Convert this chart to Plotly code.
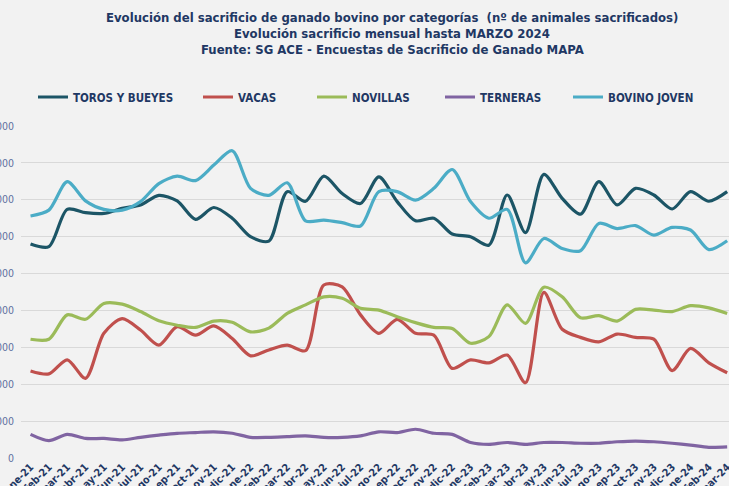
import plotly.graph_objects as go

months = [f"{m}-{y}" for y in ["21", "22", "23"] for m in
          ["ene", "feb", "mar", "abr", "may", "jun", "jul", "ago", "sep", "oct", "nov", "dic"]] + ["ene-24", "feb-24", "mar-24"]

toros = [58000, 57300, 67400, 66500, 66300, 67700, 68600, 71200, 69700, 64700, 67900, 65000,
         60000, 58800, 72200, 69600, 76400, 71700, 69000, 76200, 69500, 64300, 65000, 60700,
         60000, 57700, 71300, 61100, 76900, 70400, 66100, 74900, 68600, 73100, 71300, 67500,
         72200, 69600, 72200]
vacas = [23600, 22800, 26600, 21600, 33800, 37800, 34700, 30600, 35600, 33300, 35800, 32400,
         27700, 29300, 30600, 29100, 46900, 46400, 38800, 33800, 37600, 33800, 33300, 24300,
         26600, 25800, 27900, 20400, 44900, 34900, 32700, 31500, 33600, 32700, 32200, 23700,
         29700, 25800, 23100]
novillas = [32200, 32200, 38800, 37600, 41900, 41700, 39700, 37200, 36000, 35400, 37100, 36800,
            34200, 35200, 39200, 41500, 43700, 43300, 40600, 40100, 38300, 36700, 35400, 35100,
            31100, 32900, 41500, 36500, 46300, 43700, 38000, 38600, 37100, 40300, 40100, 39700,
            41300, 40700, 39200]
terneras = [6400, 4700, 6400, 5300, 5300, 4900, 5600, 6200, 6700, 6900, 7100, 6700,
            5600, 5600, 5800, 6000, 5600, 5600, 6000, 7100, 6900, 7800, 6700, 6400,
            4200, 3700, 4200, 3700, 4200, 4200, 4000, 4000, 4400, 4600, 4400, 4000,
            3500, 2900, 3000]
bovino_joven = [65600, 67200, 74900, 69700, 67400, 67200, 69500, 74400, 76400, 75200, 79400, 83300,
                73100, 71200, 74600, 64300, 64500, 63800, 62900, 72200, 72200, 69900, 73100, 78200,
                69500, 65000, 67400, 52900, 59500, 56800, 56200, 63600, 62200, 63000, 60400, 62500,
                61800, 56500, 58900]

series_names = ["TOROS Y BUEYES", "VACAS", "NOVILLAS", "TERNERAS", "BOVINO JOVEN"]
series_vals = [toros, vacas, novillas, terneras, bovino_joven]
colors = ["#1C5566", "#C0504D", "#9BBB59", "#8064A2", "#4BACC6"]

FONT = "Liberation Sans Narrow, DejaVu Sans Condensed, Arial Narrow, Roboto, sans-serif"
NAVY = "#1F3864"

W, H = 729, 486
ML, MR, MT, MB = 21, 0, 126, 28
pw = W - ML - MR
ph = H - MT - MB

def px_x(px):
    return (px - ML) / pw

def px_y(py):
    return (H - MB - py) / ph

fig = go.Figure()
legend_ids = ["legend", "legend2", "legend3", "legend4", "legend5"]
legend_px = [33, 198, 312, 440, 568]
for name, vals, col, lid in zip(series_names, series_vals, colors, legend_ids):
    fig.add_trace(go.Scatter(
        x=months, y=vals, name=name, mode="lines",
        line=dict(color=col, width=3.2, shape="spline", smoothing=0.8),
        legend=lid,
    ))

legend_common = dict(orientation="h", yanchor="middle", xanchor="left",
                     bgcolor="rgba(0,0,0,0)", itemwidth=30,
                     font=dict(family=FONT, size=11.5, color=NAVY, weight="bold"))
layout_legends = {}
for lid, lx in zip(legend_ids, legend_px):
    d = dict(legend_common)
    d.update(x=px_x(lx), y=px_y(97))
    layout_legends[lid] = d

titles = [
    "Evolución del sacrificio de ganado bovino por categorías  (nº de animales sacrificados)",
    "Evolución sacrificio mensual hasta MARZO 2024",
    "Fuente: SG ACE - Encuestas de Sacrificio de Ganado MAPA",
]
title_y = [18, 33, 49]
annotations = []
for t, ty in zip(titles, title_y):
    annotations.append(dict(
        text=t, xref="paper", yref="paper", x=px_x(392), y=px_y(ty),
        xanchor="center", yanchor="middle", showarrow=False,
        font=dict(family=FONT, size=13, color=NAVY, weight="bold"),
    ))

fig.update_layout(
    width=W, height=H,
    margin=dict(l=ML, r=MR, t=MT, b=MB, autoexpand=False),
    paper_bgcolor="#F2F2F2", plot_bgcolor="#F2F2F2",
    separators=",.",
    showlegend=True,
    annotations=annotations,
    xaxis=dict(
        type="category", range=[-0.52, 38.1], showgrid=False, showline=False,
        zeroline=False, ticks="", tickangle=-45, automargin=False,
        tickfont=dict(family=FONT, size=10.5, color=NAVY, weight="bold"),
    ),
    yaxis=dict(
        range=[0, 90000], dtick=10000, tickformat=",d", showgrid=True,
        gridcolor="#D9D9D9", gridwidth=1, zeroline=False, showline=False,
        ticks="", automargin=False, ticklabelstandoff=6,
        tickfont=dict(family=FONT, size=10.5, color="#6070A0"),
    ),
    **layout_legends,
)

fig.write_html("out.html", config={"displayModeBar": False},
               post_script="document.body.style.margin='0px';document.body.style.background='#F2F2F2';")
